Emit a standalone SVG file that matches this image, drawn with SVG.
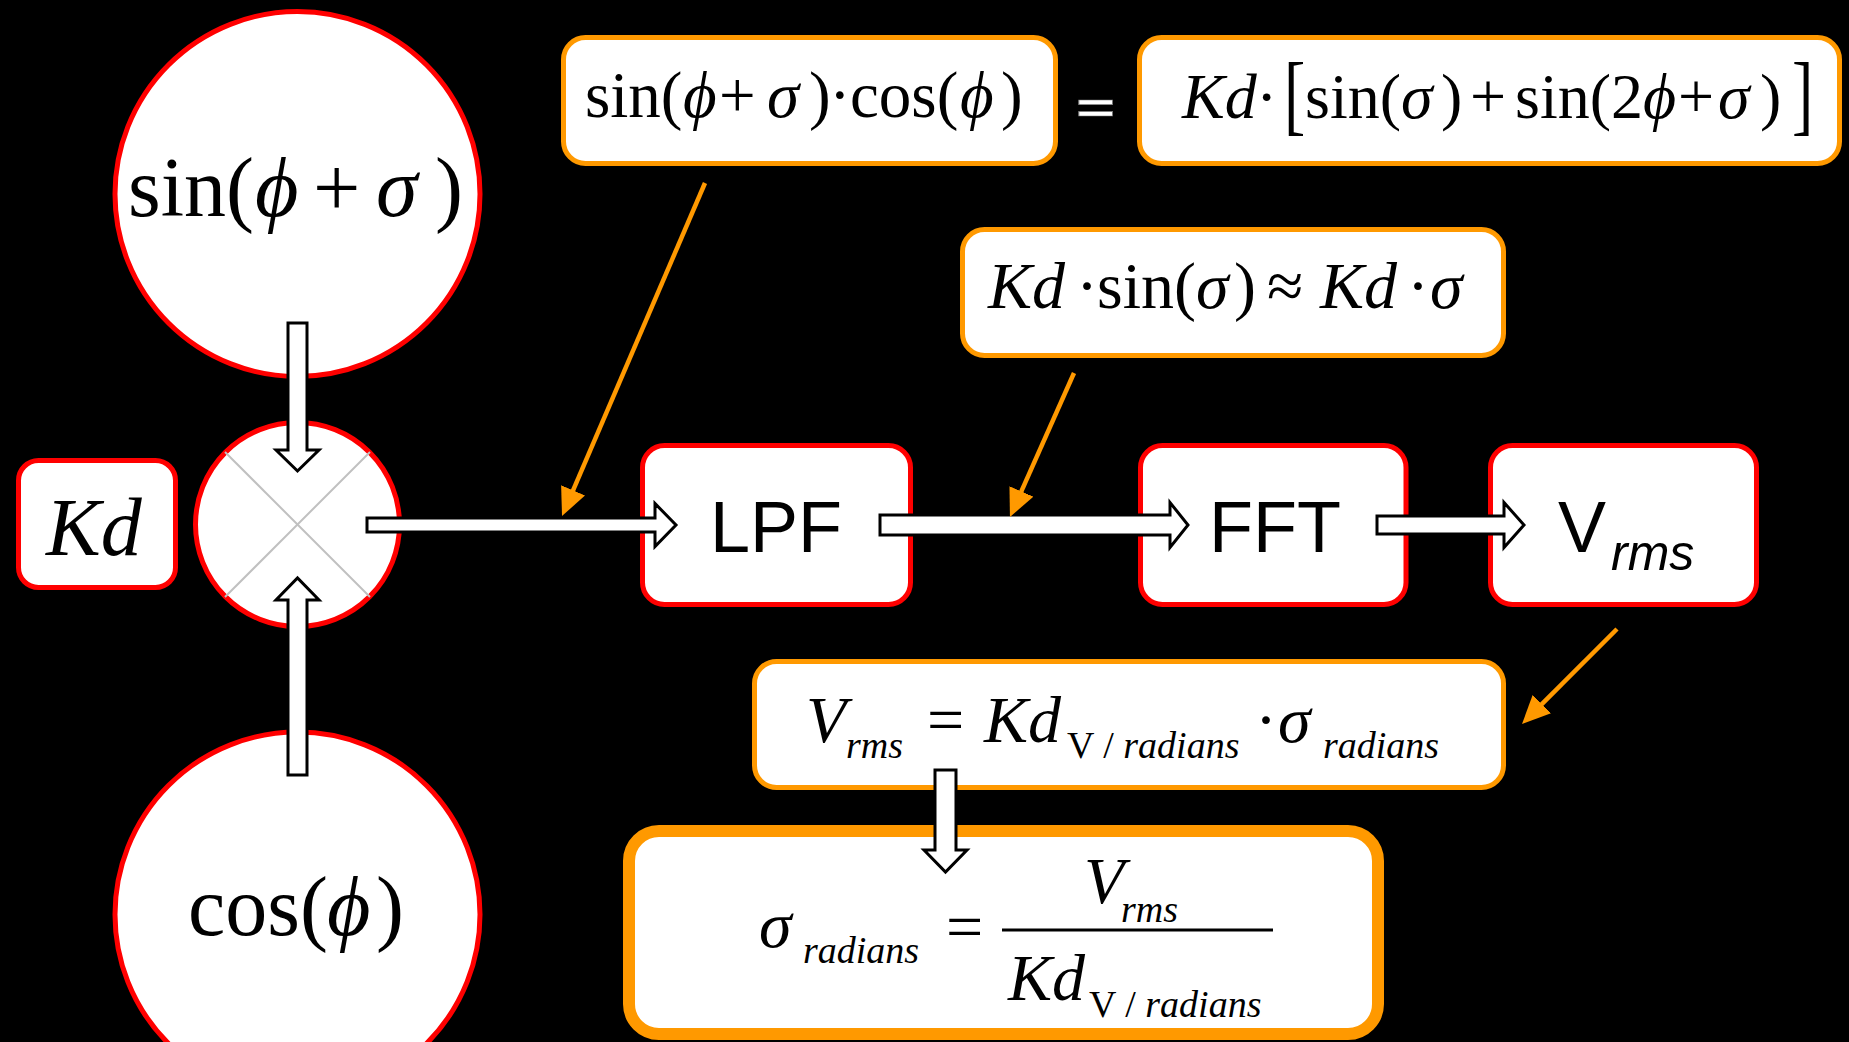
<svg xmlns="http://www.w3.org/2000/svg" width="1849" height="1042" viewBox="0 0 1849 1042">
<defs>
<style>
.rn{fill:#fff;stroke:#ff0000;stroke-width:5}
.on{fill:#fff;stroke:#ff9900;stroke-width:5}
.ba{fill:#fff;stroke:#000;stroke-width:3;stroke-linejoin:miter}
.oa{stroke:#ff9900;stroke-width:4.5;fill:none;marker-end:url(#oh)}
.m{font-family:"Liberation Serif","Times New Roman","DejaVu Serif",serif;fill:#000}
.i{font-style:italic}
.s{font-family:"Liberation Sans",Arial,sans-serif;fill:#000}
.xl{stroke:#c0c0c0;stroke-width:2}
</style>
<marker id="oh" markerUnits="userSpaceOnUse" viewBox="0 0 28 26" refX="6" refY="13" markerWidth="28" markerHeight="26" orient="auto">
<path d="M0,0 L28,13 L0,26 Z" fill="#ff9900"/>
</marker>
</defs>
<rect x="0" y="0" width="1849" height="1042" fill="#000"/>

<g id="sin-source">
<circle class="rn" cx="297.5" cy="194" r="182.5"/>
<text class="m" font-size="84" y="216"><tspan x="128">sin(</tspan><tspan class="i" x="255">ϕ</tspan><tspan x="313">+</tspan><tspan class="i" x="376">σ</tspan><tspan x="435">)</tspan></text>
</g>

<g id="multiplier">
<circle class="rn" cx="297.5" cy="524.5" r="102"/>
<line class="xl" x1="225" y1="452" x2="370" y2="597"/>
<line class="xl" x1="225" y1="597" x2="370" y2="452"/>
</g>

<g id="cos-source">
<circle class="rn" cx="297.5" cy="914.5" r="182.5"/>
<text class="m" font-size="84" y="935"><tspan x="188">cos(</tspan><tspan class="i" x="327">ϕ</tspan><tspan x="376">)</tspan></text>
</g>

<g id="kd">
<rect class="rn" x="18.5" y="460.5" width="157" height="127" rx="20"/>
<text class="m i" font-size="82" x="46" y="555">Kd</text>
</g>

<g id="product">
<rect class="on" x="563.5" y="37.5" width="492" height="126" rx="22"/>
<text class="m" font-size="65" y="117"><tspan x="585">sin(</tspan><tspan class="i" x="683">ϕ</tspan><tspan x="719">+</tspan><tspan class="i" x="767">σ</tspan><tspan x="809">)</tspan><tspan x="829">·</tspan><tspan x="850">cos(</tspan><tspan class="i" x="960">ϕ</tspan><tspan x="1001">)</tspan></text>
</g>

<g id="equals">
<text transform="translate(1095.5,123) scale(1.6,1)" font-family="Liberation Sans, Arial, sans-serif" font-weight="bold" font-size="42" fill="#fff" stroke="#777" stroke-width="0.6" text-anchor="middle">=</text>
</g>

<g id="expansion">
<rect class="on" x="1139.5" y="37.5" width="700" height="126" rx="22"/>
<text class="m" font-size="64" y="118"><tspan class="i" x="1182">Kd</tspan><tspan x="1256">·</tspan><tspan x="1305">sin(</tspan><tspan class="i" x="1401">σ</tspan><tspan x="1441">)</tspan><tspan x="1470">+</tspan><tspan x="1515">sin(</tspan><tspan x="1611">2</tspan><tspan class="i" x="1643">ϕ</tspan><tspan x="1678">+</tspan><tspan class="i" x="1718">σ</tspan><tspan x="1760">)</tspan></text>
<text class="m" font-size="64" transform="translate(1284,124) scale(1,1.38)">[</text>
<text class="m" font-size="64" transform="translate(1792,124) scale(1,1.38)">]</text>
</g>

<g id="approx">
<rect class="on" x="962.5" y="229.5" width="541" height="126" rx="22"/>
<text class="m" font-size="66" y="308"><tspan class="i" x="988">Kd</tspan><tspan x="1076">·</tspan><tspan x="1097">sin(</tspan><tspan class="i" x="1196">σ</tspan><tspan x="1234">)</tspan><tspan x="1267">≈</tspan><tspan class="i" x="1320">Kd</tspan><tspan x="1407">·</tspan><tspan class="i" x="1430">σ</tspan></text>
</g>

<g id="lpf">
<rect class="rn" x="642.5" y="445.5" width="268" height="159" rx="22"/>
<text class="s" font-size="72" x="776" y="552" text-anchor="middle">LPF</text>
</g>

<g id="fft">
<rect class="rn" x="1140.5" y="445.5" width="265.5" height="159" rx="22"/>
<text class="s" font-size="72" x="1275" y="552" text-anchor="middle">FFT</text>
</g>

<g id="vrms">
<rect class="rn" x="1490.5" y="445.5" width="266" height="159" rx="22"/>
<text class="s" font-size="72" y="552"><tspan x="1558">V</tspan></text>
<text class="s i" font-size="50" x="1611" y="570">rms</text>
</g>

<g id="vrms-eq">
<rect class="on" x="754.5" y="661.5" width="749" height="126" rx="22"/>
<text class="m i" font-size="66" x="806" y="742">V</text>
<text class="m i" font-size="38" x="846" y="758">rms</text>
<text class="m" font-size="66" x="927" y="742">=</text>
<text class="m i" font-size="66" x="984" y="742">Kd</text>
<text class="m" font-size="38" y="758"><tspan x="1067">V / </tspan><tspan class="i">radians</tspan></text>
<text class="m" font-size="66" x="1255" y="742">·</text>
<text class="m i" font-size="66" x="1278" y="742">σ</text>
<text class="m i" font-size="38" x="1323" y="758">radians</text>
</g>

<g id="sigma-eq">
<rect x="629" y="831" width="749" height="203" rx="30" fill="#fff" stroke="#ff9900" stroke-width="12"/>
<text class="m i" font-size="66" x="759" y="947">σ</text>
<text class="m i" font-size="38" x="803" y="963">radians</text>
<text class="m" font-size="66" x="946" y="949">=</text>
<line x1="1002" y1="930" x2="1273" y2="930" stroke="#000" stroke-width="3"/>
<text class="m i" font-size="66" x="1084" y="903">V</text>
<text class="m i" font-size="38" x="1121" y="922">rms</text>
<text class="m i" font-size="66" x="1008" y="1000">Kd</text>
<text class="m" font-size="38" y="1017"><tspan x="1089">V / </tspan><tspan class="i">radians</tspan></text>
</g>

<g id="connectors">
<polygon class="ba" points="288,323 307,323 307,450 319,450 297.5,471 276,450 288,450"/>
<polygon class="ba" points="288,775 307,775 307,600 319,600 297.5,578 276,600 288,600"/>
<polygon class="ba" points="367,518 655,518 655,503.5 676,525 655,546.5 655,532 367,532"/>
<polygon class="ba" points="880,515 1170,515 1170,502.5 1188,525 1170,547.5 1170,535 880,535"/>
<polygon class="ba" points="1377,516 1504,516 1504,502.5 1524,525 1504,547.5 1504,534 1377,534"/>
<polygon class="ba" points="935,770 956,770 956,850 967,850 945.5,872 924,850 935,850"/>
<line class="oa" x1="705" y1="183" x2="570.7" y2="495.8"/>
<line class="oa" x1="1074" y1="373" x2="1018.9" y2="496.9"/>
<line class="oa" x1="1617" y1="629" x2="1537.6" y2="708.4"/>
</g>
</svg>
